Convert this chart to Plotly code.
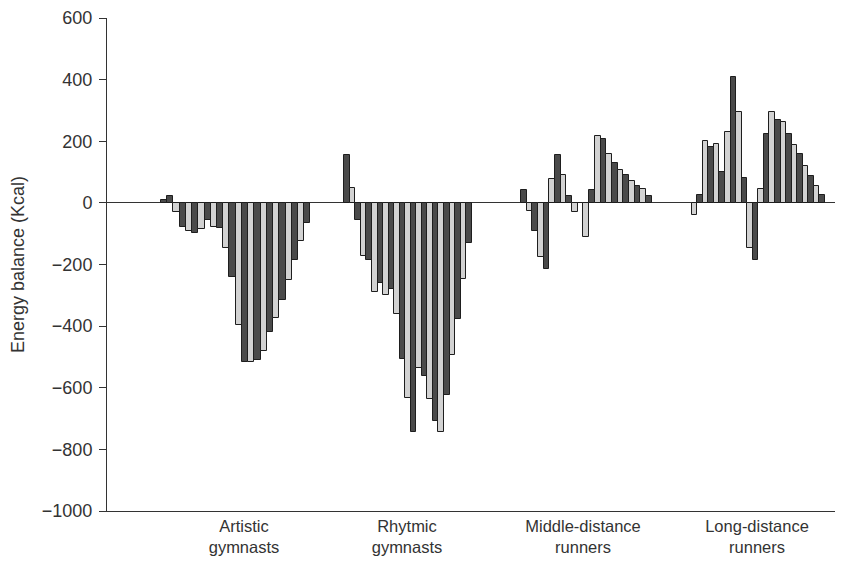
import plotly.graph_objects as go

# ---- data ----
group_labels = ["Artistic<br>gymnasts", "Rhytmic<br>gymnasts",
                "Middle-distance<br>runners", "Long-distance<br>runners"]

artistic = [10, 23, -29, -78, -90, -97, -85, -55, -78, -82, -146, -242,
            -397, -515, -515, -511, -482, -419, -374, -314, -251, -187, -125, -65]
rhythmic = [157, 49, -56, -171, -187, -290, -259, -299, -281, -362, -508, -632,
            -743, -535, -562, -637, -708, -743, -625, -495, -376, -246, -130]
middle = [41, -27, -92, -176, -214, 78, 157, 89, 22, -29, 0, -110,
          43, 216, 207, 160, 128, 108, 89, 70, 56, 45, 22]
long_ = [-39, 24, 201, 182, 190, 99, 231, 408, 294, 82, -147, -187,
         45, 223, 294, 268, 261, 225, 188, 158, 119, 86, 56, 24]

y_ticks = [-1000, -800, -600, -400, -200, 0, 200, 400, 600]

# ---- layout / style ----
DARK = "#4a4a4a"
LIGHT = "#d2d2d2"
groups = [artistic, rhythmic, middle, long_]
centers = [128.7, 301.0, 479.3, 651.3]       # axis units (x axis 0..736)
widths = [6.23, 5.54, 5.68, 5.55]
label_pos = [137, 300, 476, 650]
start_dark = [True, True, True, False]

fig = go.Figure()
for gi, vals in enumerate(groups):
    n = len(vals)
    w = widths[gi]
    xs = [centers[gi] + (i - (n - 1) / 2) * w for i in range(n)]
    if gi == 0:
        cols = [DARK, DARK] + [LIGHT if i % 2 == 0 else DARK for i in range(n - 2)]
    else:
        cols = [DARK if ((i % 2 == 0) == start_dark[gi]) else LIGHT for i in range(n)]
    fig.add_trace(go.Bar(
        x=xs, y=vals, width=w,
        marker=dict(color=cols, line=dict(color="#1e1e1e", width=1)),
        showlegend=False, hoverinfo="y",
    ))

# the page body has an 8px default margin, so the figure is sized to fit
fig.update_layout(
    width=835, height=553,
    margin=dict(l=99, r=0, t=10, b=50),
    plot_bgcolor="white", paper_bgcolor="white",
    font=dict(family="Liberation Sans, Arial, sans-serif", color="#333333"),
    bargap=0,
)
fig.update_xaxes(
    range=[0, 736], showgrid=False, zeroline=False,
    showline=True, linecolor="#333333", linewidth=1,
    tickmode="array", tickvals=label_pos, ticktext=group_labels,
    ticks="", tickfont=dict(size=16.5, color="#333333"),
)
fig.update_yaxes(
    range=[-1000, 600], tickmode="array", tickvals=y_ticks,
    showgrid=False, zeroline=True, zerolinecolor="#333333", zerolinewidth=1,
    showline=True, linecolor="#333333", linewidth=1,
    ticks="outside", ticklen=7, tickcolor="#333333",
    ticklabelstandoff=3,
    tickfont=dict(size=18, color="#333333"),
    title=dict(text="Energy balance (Kcal)", font=dict(size=18, color="#333333"), standoff=12),
)

fig.write_html("out.html")
